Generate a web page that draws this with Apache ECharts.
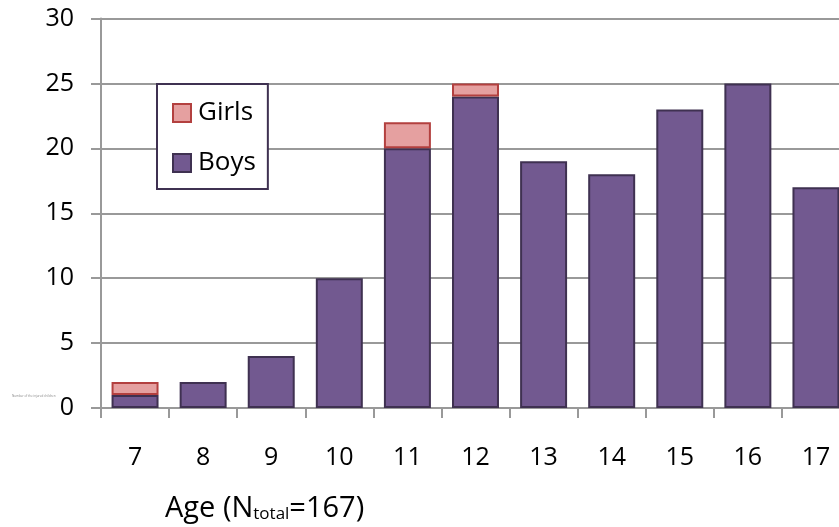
<!DOCTYPE html>
<html>
<head>
<meta charset="utf-8">
<script src="https://cdn.jsdelivr.net/npm/echarts@6/dist/echarts.min.js"></script>
<style>html,body{margin:0;padding:0;background:#fff}#c{width:839px;height:527px}</style>
</head>
<body>
<div id="c"></div>
<script>
const categories = ['7','8','9','10','11','12','13','14','15','16','17'];
const boys  = [1, 2, 4, 10, 20, 24, 19, 18, 23, 25, 17];
const girls = [1, 0, 0, 0, 2, 1, 0, 0, 0, 0, 0];
const yTicks = { min: 0, max: 30, interval: 5 };

const FONT = 'Open Sans';
const chart = echarts.init(document.getElementById('c'), null, { renderer: 'canvas' });
chart.setOption({
  backgroundColor: '#fff',
  animation: false,
  textStyle: { fontFamily: FONT },
  grid: { left: 101, width: 749, top: 18.5, height: 389.5, containLabel: false, outerBoundsMode: 'none' },
  legend: {
    data: ['Girls', 'Boys'],
    orient: 'vertical',
    left: 157, top: 84,
    padding: [16, 12, 13, 15],
    itemGap: 24,
    itemWidth: 18, itemHeight: 18,
    backgroundColor: '#fff',
    borderColor: '#3f3151', borderWidth: 2, borderRadius: 0,
    textStyle: { fontSize: 26, color: '#000', fontFamily: FONT, lineHeight: 18, padding: [0, 0, 0, 2] },
    icon: 'rect'
  },
  xAxis: {
    type: 'category', data: categories,
    axisLine: { show: true, lineStyle: { color: '#999', width: 2 } },
    axisTick: { show: true, length: 10, interval: 0, lineStyle: { color: '#999', width: 2 } },
    axisLabel: { fontSize: 25, color: '#000', margin: 37, interval: 0, fontFamily: FONT }
  },
  yAxis: {
    type: 'value', min: yTicks.min, max: yTicks.max, interval: yTicks.interval,
    axisLine: { show: true, lineStyle: { color: '#999', width: 2 } },
    axisTick: { show: true, length: 10, lineStyle: { color: '#999', width: 2 } },
    splitLine: { show: true, lineStyle: { color: '#999', width: 2 } },
    axisLabel: { fontSize: 25, color: '#000', margin: 27, fontFamily: FONT }
  },
  series: [
    {
      name: 'Boys', type: 'bar', stack: 'a', data: boys,
      barCategoryGap: '31%',
      itemStyle: { color: '#725990', borderColor: '#3f3151', borderWidth: 2 }
    },
    {
      name: 'Girls', type: 'bar', stack: 'a', data: girls.map(v => v === 0 ? '-' : v),
      barCategoryGap: '31%',
      itemStyle: { color: '#e5a0a0', borderColor: '#b3403f', borderWidth: 2 }
    }
  ],
  graphic: [
    {
      type: 'text', left: 165, top: 494,
      style: {
        text: 'Age (N{sub|total}=167)',
        font: '29px "Open Sans"', fill: '#000',
        rich: { sub: { fontSize: 17, fontFamily: FONT, verticalAlign: 'bottom', padding: [10, 0, 0, 0], fill: '#000' } }
      }
    },
    {
      type: 'text', left: 12, top: 395,
      style: { text: 'Number of the injured children', font: '3px "Open Sans"', fill: '#888' }
    }
  ]
});
</script>
</body>
</html>
